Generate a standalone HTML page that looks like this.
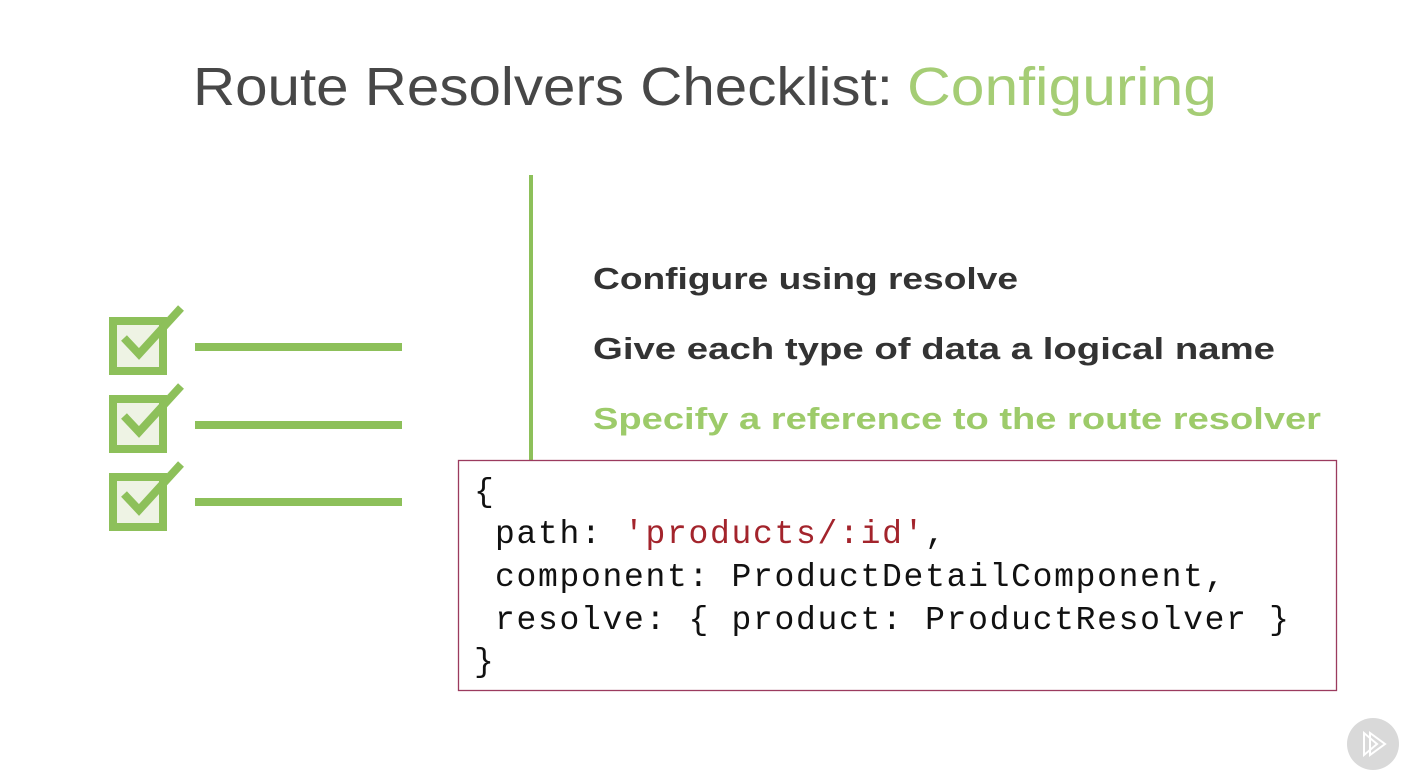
<!DOCTYPE html>
<html><head><meta charset="utf-8"><style>
html,body{margin:0;padding:0;background:#fff;}
svg{display:block;}
</style></head><body>
<svg width="1422" height="774" viewBox="0 0 1422 774" xmlns="http://www.w3.org/2000/svg">
<rect width="1422" height="774" fill="#fff"/>
<text x="193" y="105" font-family="Liberation Sans, sans-serif" font-size="54" fill="#474747" textLength="700" lengthAdjust="spacingAndGlyphs">Route Resolvers Checklist:</text>
<text x="907" y="105" font-family="Liberation Sans, sans-serif" font-size="54" fill="#a5cd75" textLength="310" lengthAdjust="spacingAndGlyphs">Configuring</text>

<g fill="#eef3e4" stroke="#8dc05a" stroke-width="8">
<rect x="113" y="321" width="50" height="50"/>
<rect x="113" y="399" width="50" height="50"/>
<rect x="113" y="477" width="50" height="50"/>
</g>
<g fill="none" stroke="#8dc05a" stroke-width="8" stroke-linecap="butt">
<polyline points="124,338 139,354 181,308"/>
<polyline points="124,416 139,432 181,386"/>
<polyline points="124,494 139,510 181,464"/>
</g>
<g fill="#8dc05a">
<rect x="195" y="343" width="207" height="8"/>
<rect x="195" y="421" width="207" height="8"/>
<rect x="195" y="498" width="207" height="8"/>
<rect x="529" y="175" width="4" height="286"/>
</g>

<g font-family="Liberation Sans, sans-serif" font-weight="bold" font-size="31">
<text x="593" y="289" fill="#333" textLength="425" lengthAdjust="spacingAndGlyphs">Configure using resolve</text>
<text x="593" y="359" fill="#333" textLength="682" lengthAdjust="spacingAndGlyphs">Give each type of data a logical name</text>
<text x="593" y="429" fill="#9dcb6a" textLength="728" lengthAdjust="spacingAndGlyphs">Specify a reference to the route resolver</text>
</g>

<rect x="458.5" y="460.5" width="878" height="230" fill="#fff" stroke="#9b3b5e" stroke-width="1.3"/>
<g font-family="Liberation Mono, monospace" font-size="33" fill="#111" letter-spacing="1.7">
<text x="474" y="501">{</text>
<text x="495" y="543">path: <tspan fill="#a3242c">'products/:id'</tspan>,</text>
<text x="495" y="586">component: ProductDetailComponent,</text>
<text x="495" y="629">resolve: { product: ProductResolver }</text>
<text x="474" y="671">}</text>
</g>

<circle cx="1373" cy="744" r="26" fill="#d9d9d9"/>
<g fill="none" stroke="#fff" stroke-width="2">
<polygon points="1364,733 1364,755 1377,744"/>
<polygon points="1370,733 1370,755 1385,744"/>
</g>
</svg>
</body></html>
